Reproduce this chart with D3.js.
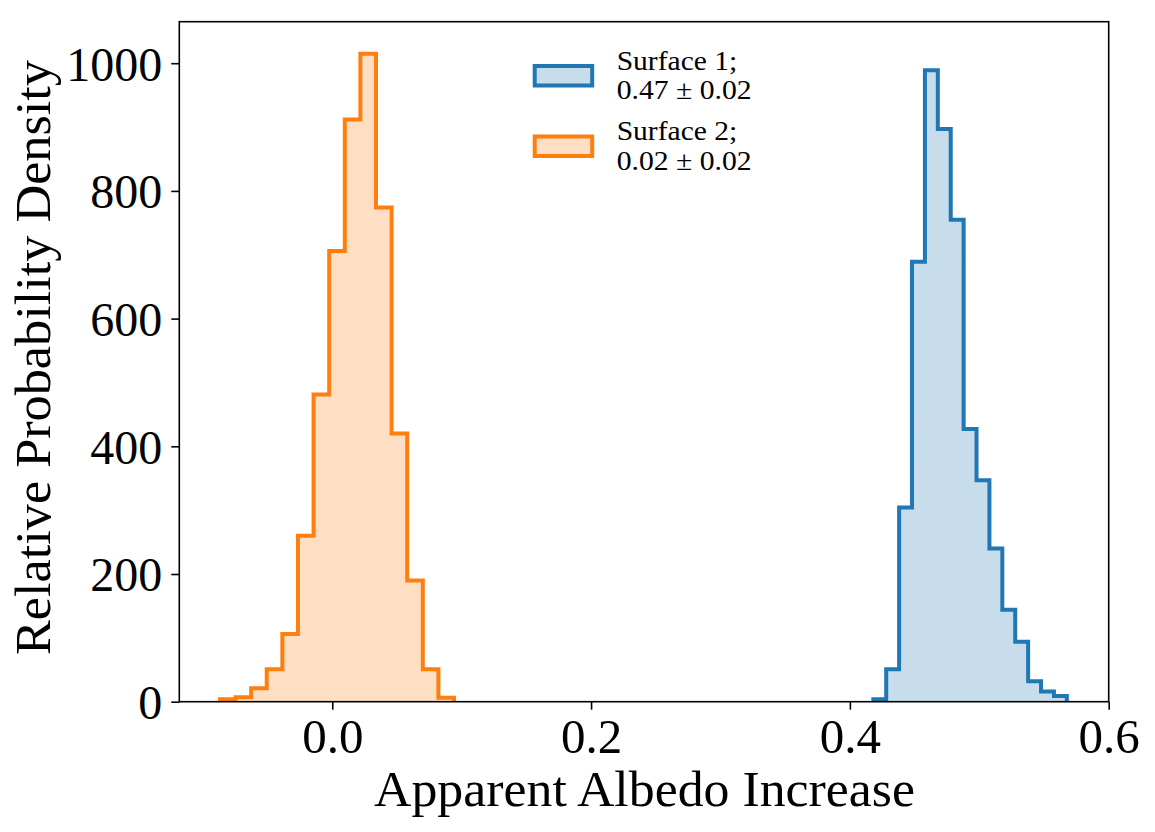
<!DOCTYPE html>
<html>
<head>
<meta charset="utf-8">
<script src="https://cdn.jsdelivr.net/npm/d3@7"></script>
<style>
  body { margin: 0; background: #fff; }
  text { font-family: "Liberation Serif", "Times New Roman", serif; fill: #000; }
</style>
</head>
<body>
<svg id="chart" width="1155" height="832"></svg>
<script>
  // histogram bins
  var s1Start = 0.4181, s1Width = 0.00997;
  var s1Counts = [4, 51, 304, 689, 989, 897, 755, 427, 347, 240, 144, 94, 32, 16, 9];
  var s2Start = -0.0868, s2Width = 0.01206;
  var s2Counts = [4, 7, 21, 51, 106, 260, 481, 706, 912, 1015, 774, 420, 190, 51, 6];

  var xTicks = [0.0, 0.2, 0.4, 0.6];
  var yTicks = [0, 200, 400, 600, 800, 1000];
  var legendLines = [["Surface 1;", "0.47 \u00b1 0.02"], ["Surface 2;", "0.02 \u00b1 0.02"]];
  var colors = ["#1f77b4", "#ff7f0e"];

  // plot box (note: "top" is reserved on window)
  var pLeft = 179.3, pRight = 1108.7, pTop = 21.7, pBottom = 701.7;
  var x = d3.scaleLinear().domain([-0.1182, 0.6]).range([pLeft, pRight]);
  var y = d3.scaleLinear().domain([0, 1065]).range([pBottom, pTop]);

  var svg = d3.select("#chart");

  function bins(start, width, counts) {
    return counts.map(function (c, i) {
      return { x0: start + i * width, x1: start + (i + 1) * width, v: c };
    });
  }

  function stepPts(b) {
    var pts = [[b[0].x0, 0]];
    b.forEach(function (d) { pts.push([d.x0, d.v]); pts.push([d.x1, d.v]); });
    pts.push([b[b.length - 1].x1, 0]);
    return pts;
  }

  var line = d3.line().x(function (d) { return x(d[0]); }).y(function (d) { return y(d[1]); });

  var series = [bins(s1Start, s1Width, s1Counts), bins(s2Start, s2Width, s2Counts)];

  series.forEach(function (b, i) {
    var pts = stepPts(b);
    svg.append("path")
      .attr("d", line(pts) + "Z")
      .attr("fill", colors[i]).attr("fill-opacity", 0.25).attr("stroke", "none");
    svg.append("path")
      .attr("d", line(pts))
      .attr("fill", "none").attr("stroke", colors[i])
      .attr("stroke-width", 4).attr("stroke-linejoin", "miter");
  });

  // frame
  svg.append("rect")
    .attr("x", pLeft).attr("y", pTop)
    .attr("width", pRight - pLeft).attr("height", pBottom - pTop)
    .attr("fill", "none").attr("stroke", "#000").attr("stroke-width", 1.6);

  // axes
  var xAxis = d3.axisBottom(x).tickValues(xTicks).tickFormat(d3.format(".1f")).tickSize(8).tickPadding(6);
  var gx = svg.append("g").attr("transform", "translate(0," + pBottom + ")").call(xAxis);
  gx.select(".domain").remove();
  gx.selectAll(".tick line").attr("stroke", "#000").attr("stroke-width", 1.6);
  gx.selectAll(".tick text").attr("font-size", 49).attr("dy", null).attr("y", 51);

  var yAxis = d3.axisLeft(y).tickValues(yTicks).tickFormat(d3.format("d")).tickSize(8).tickPadding(9);
  var gy = svg.append("g").attr("transform", "translate(" + pLeft + ",0)").call(yAxis);
  gy.select(".domain").remove();
  gy.selectAll(".tick line").attr("stroke", "#000").attr("stroke-width", 1.6);
  gy.selectAll(".tick text").attr("font-size", 48).attr("dy", "0.35em");

  svg.selectAll(".tick text").style("font-family", "'Liberation Serif', serif");

  // axis labels
  svg.append("text")
    .attr("x", 644.5).attr("y", 806)
    .attr("text-anchor", "middle").attr("font-size", 50)
    .attr("textLength", 541).attr("lengthAdjust", "spacingAndGlyphs")
    .text("Apparent Albedo Increase");

  svg.append("text")
    .attr("transform", "translate(50,357.5) rotate(-90)")
    .attr("text-anchor", "middle").attr("font-size", 50)
    .attr("textLength", 595).attr("lengthAdjust", "spacingAndGlyphs")
    .text("Relative Probability Density");

  // legend
  var lineWidths = [120.5, 135];
  var lg = svg.append("g");
  legendLines.forEach(function (lines, i) {
    var oy = i * 70.5;
    lg.append("rect")
      .attr("x", 534.7).attr("y", 66 + oy).attr("width", 57.5).attr("height", 19.5)
      .attr("fill", colors[i]).attr("fill-opacity", 0.25)
      .attr("stroke", colors[i]).attr("stroke-width", 4);
    lines.forEach(function (t, j) {
      lg.append("text")
        .attr("x", 616.7).attr("y", 69.5 + oy + j * 29.7)
        .attr("font-size", 28)
        .attr("textLength", lineWidths[j]).attr("lengthAdjust", "spacingAndGlyphs")
        .text(t);
    });
  });
</script>
</body>
</html>
